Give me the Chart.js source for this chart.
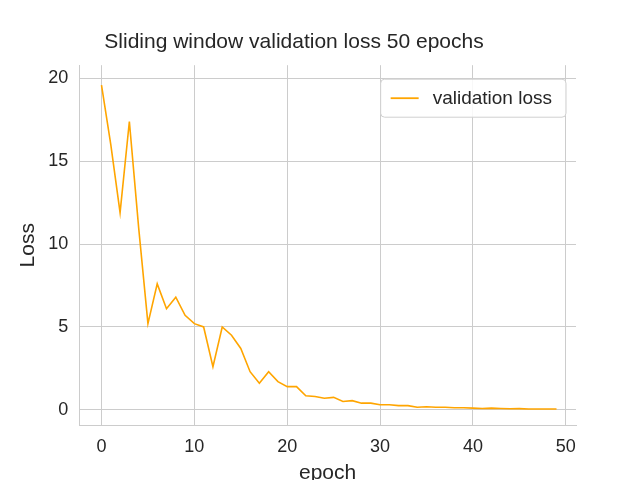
<!DOCTYPE html>
<html><head><meta charset="utf-8">
<script src="https://cdn.jsdelivr.net/npm/chart.js@4"></script>
<style>html,body{margin:0;background:#fff}#wrap{width:640px;height:480px}</style>
</head><body><div id="wrap"><canvas id="c"></canvas></div>
<script>
const epochs = Array.from({length: 50}, (_, i) => i);
const valLoss = [19.6,16.0,11.9,17.4,11.0,5.2,7.6,6.1,6.8,5.7,5.2,5.0,2.6,5.0,4.5,3.7,2.3,1.6,2.3,1.7,
  1.4,1.4,0.85,0.8,0.7,0.75,0.5,0.55,0.4,0.4,0.3,0.3,0.25,0.25,0.15,0.18,0.15,0.15,0.12,0.12,
  0.1,0.08,0.1,0.08,0.06,0.07,0.05,0.05,0.05,0.05];
const xTicks = [0,10,20,30,40,50];
const yTicks = [0,5,10,15,20];

// legend box drawn in the upper right of the plot
const legendBox = {
  id: 'legendBox',
  afterDraw(chart) {
    const {ctx, chartArea: a} = chart;
    const ds = chart.data.datasets[0];
    ctx.save();
    ctx.font = '19px "Liberation Sans"';
    const w = ctx.measureText(ds.label).width + 66, h = 38;
    const x = a.right - w - 10, y = a.top + 14;
    ctx.fillStyle = 'rgba(255,255,255,0.85)';
    ctx.strokeStyle = '#d0d0d0';
    ctx.lineWidth = 1;
    ctx.beginPath(); ctx.roundRect(x, y, w, h, 4); ctx.fill(); ctx.stroke();
    ctx.strokeStyle = ds.borderColor; ctx.lineWidth = 1.8;
    ctx.beginPath(); ctx.moveTo(x + 10, y + h / 2); ctx.lineTo(x + 38, y + h / 2); ctx.stroke();
    ctx.fillStyle = '#262626'; ctx.textBaseline = 'middle';
    ctx.fillText(ds.label, x + 52, y + h / 2 + 1);
    ctx.restore();
  }
};

Chart.defaults.font.family = '"Liberation Sans", Arial, sans-serif';
Chart.defaults.color = '#262626';
new Chart(document.getElementById('c'), {
  type: 'line',
  data: { datasets: [{
    label: 'validation loss',
    data: epochs.map((e, i) => ({x: e, y: valLoss[i]})),
    borderColor: 'orange', backgroundColor: 'orange',
    borderWidth: 1.6, pointRadius: 0, tension: 0
  }]},
  plugins: [legendBox],
  options: {
    responsive: true, maintainAspectRatio: false, animation: false,
    layout: {padding: {left: 12, right: 64, top: 0, bottom: -10}},
    plugins: {
      title: {display: true, text: 'Sliding window validation loss 50 epochs',
        font: {size: 21, weight: 'normal'}, color: '#262626', padding: {top: 30, bottom: 10}},
      legend: {display: false}
    },
    scales: {
      x: {type: 'linear', min: -2.4, max: 51.1,
        afterBuildTicks: s => { s.ticks = xTicks.map(v => ({value: v})); },
        grid: {color: '#cccccc', tickLength: 8, tickColor: 'transparent'},
        border: {color: '#cccccc'},
        ticks: {font: {size: 18}},
        title: {display: true, text: 'epoch', font: {size: 21}, padding: {top: 0}}},
      y: {min: -0.93, max: 20.8,
        afterBuildTicks: s => { s.ticks = yTicks.map(v => ({value: v})); },
        grid: {color: '#cccccc', tickColor: 'transparent'},
        border: {color: '#cccccc'},
        ticks: {font: {size: 18}},
        title: {display: true, text: 'Loss', font: {size: 21}}}
    }
  }
});
</script></body></html>
